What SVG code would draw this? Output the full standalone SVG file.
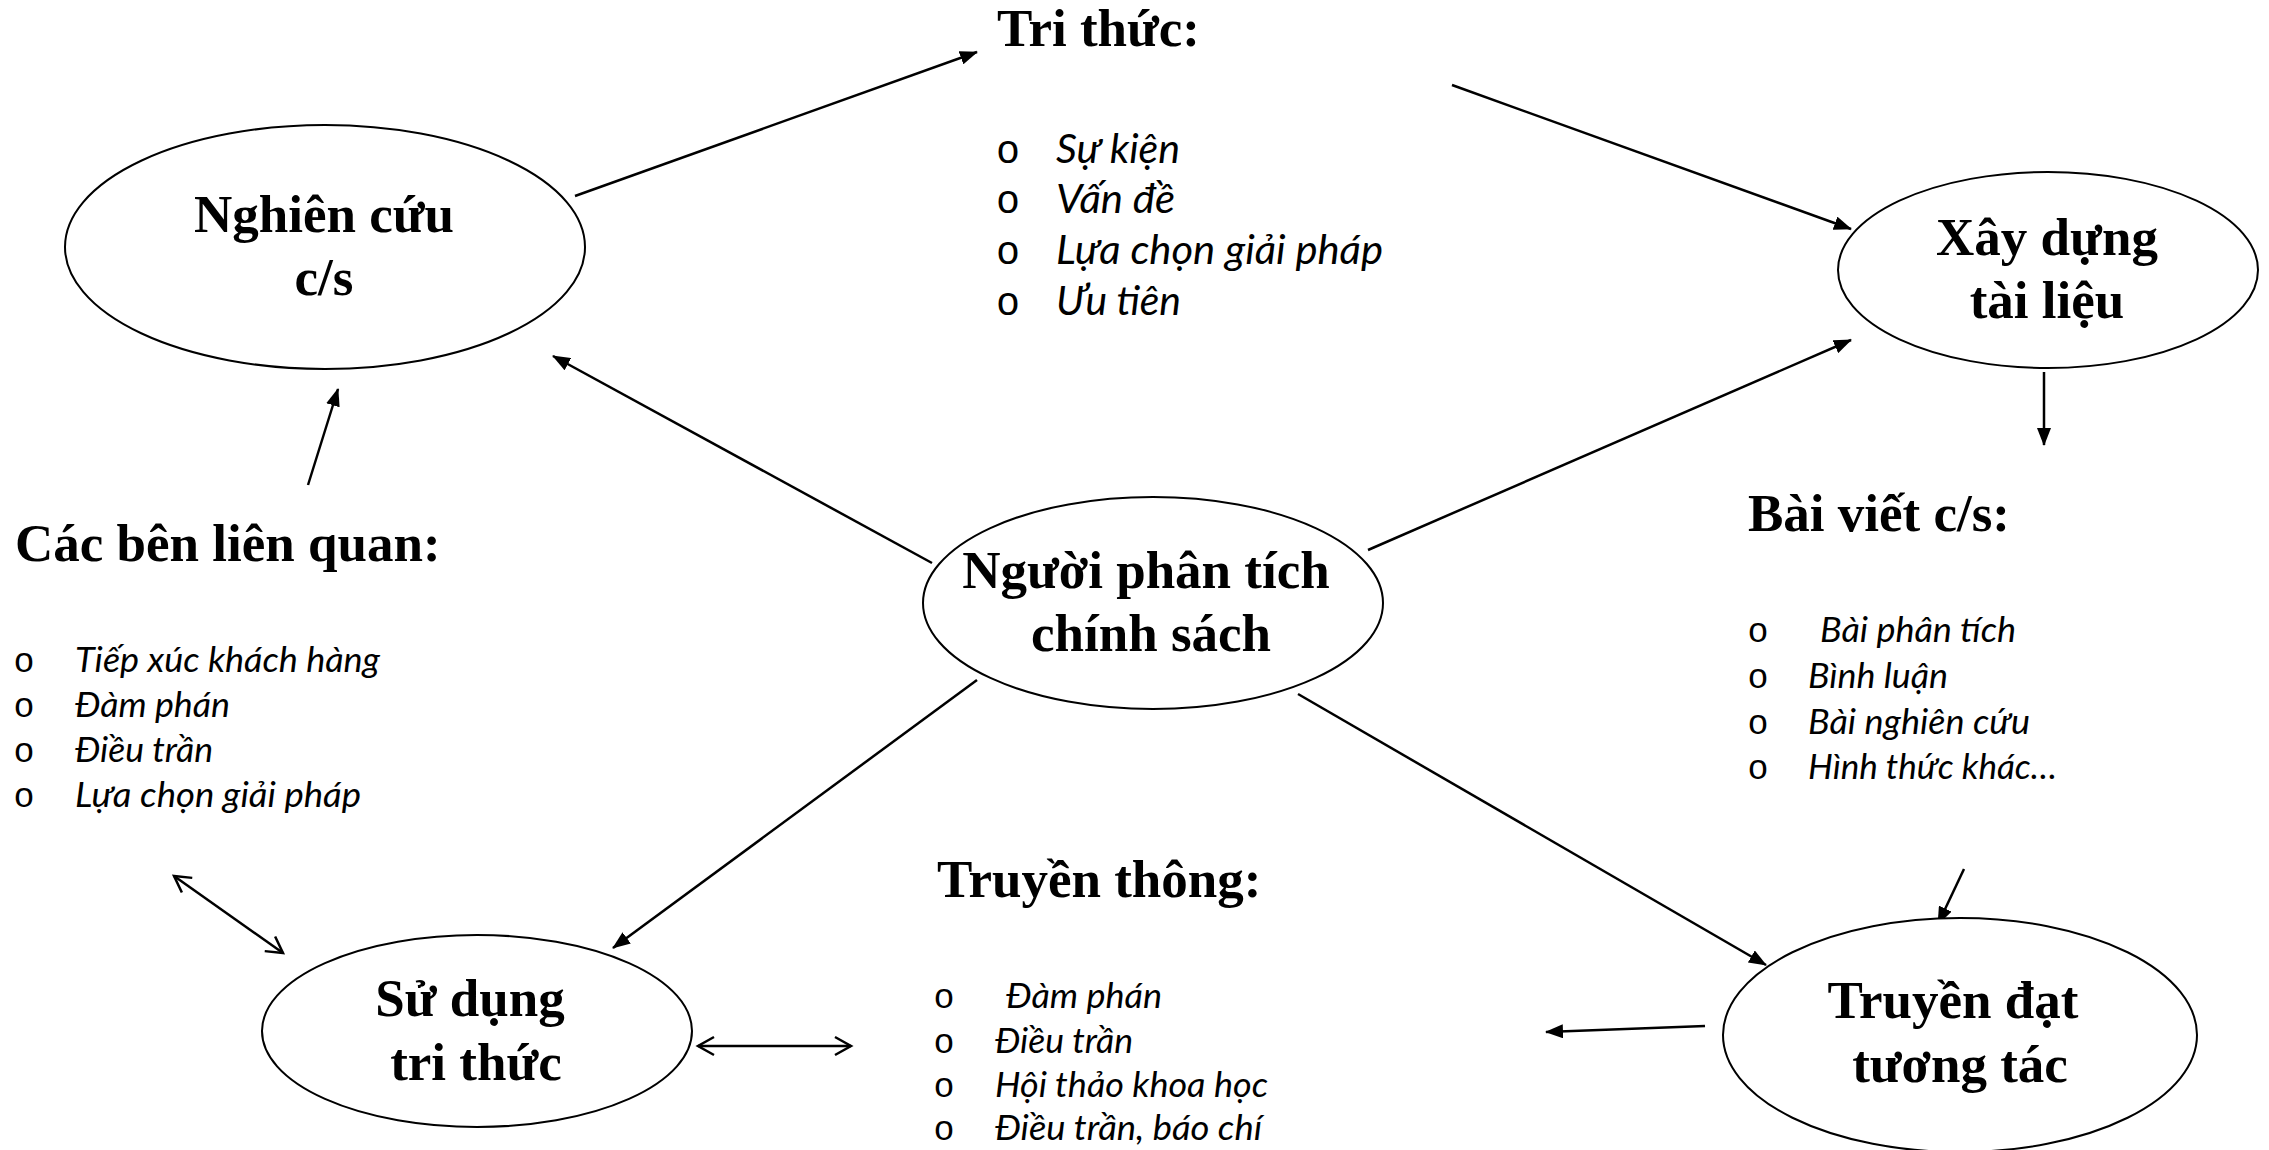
<svg xmlns="http://www.w3.org/2000/svg" width="2269" height="1150" viewBox="0 0 2269 1150">
<style>
.node{fill:#fff;stroke:#000;stroke-width:2}
.lbl{font-family:"Liberation Serif","Times New Roman",serif;font-weight:bold;font-size:53px;fill:#000}
.mid{text-anchor:middle}
.li{font-family:Lato,"Open Sans",sans-serif;font-style:italic;fill:#000}
.big{font-size:40px}
.sm{font-size:35px}
.bul{font-family:"Liberation Mono","Courier New",monospace;text-anchor:middle;fill:#000}
.ln{stroke:#000;stroke-width:2.5;fill:none}
</style>
<defs>
<marker id="fa" markerUnits="userSpaceOnUse" markerWidth="18" markerHeight="14" refX="17" refY="7" orient="auto">
<path d="M0,0 L18,7 L0,14 z" fill="#000"/>
</marker>
<marker id="oa" markerUnits="userSpaceOnUse" markerWidth="22" markerHeight="22" refX="19" refY="11" orient="auto-start-reverse">
<path d="M3,2 L19,11 L3,20" fill="none" stroke="#000" stroke-width="2.5"/>
</marker>
</defs>
<rect width="2269" height="1150" fill="#fff"/>
<g id="connectors">
<line class="ln" x1="575" y1="196" x2="977" y2="52" marker-end="url(#fa)"/>
<line class="ln" x1="308" y1="485" x2="338" y2="389" marker-end="url(#fa)"/>
<line class="ln" x1="932" y1="563" x2="553" y2="356" marker-end="url(#fa)"/>
<line class="ln" x1="1452" y1="85" x2="1851" y2="229" marker-end="url(#fa)"/>
<line class="ln" x1="1368" y1="550" x2="1851" y2="340" marker-end="url(#fa)"/>
<line class="ln" x1="2044" y1="372" x2="2044" y2="445" marker-end="url(#fa)"/>
<line class="ln" x1="977" y1="680" x2="613" y2="948" marker-end="url(#fa)"/>
<line class="ln" x1="174" y1="876" x2="283" y2="953" marker-start="url(#oa)" marker-end="url(#oa)"/>
<line class="ln" x1="698" y1="1046" x2="851" y2="1046" marker-start="url(#oa)" marker-end="url(#oa)"/>
<line class="ln" x1="1298" y1="694" x2="1766" y2="965" marker-end="url(#fa)"/>
<line class="ln" x1="1964" y1="869" x2="1938" y2="924" marker-end="url(#fa)"/>
<line class="ln" x1="1705" y1="1026" x2="1546" y2="1032" marker-end="url(#fa)"/>
</g>
<g id="nghien-cuu">
<ellipse class="node" cx="325" cy="247" rx="260" ry="122"/>
<text class="lbl mid" x="324" y="232">Nghiên cứu</text>
<text class="lbl mid" x="324" y="295">c/s</text>
</g>
<g id="xay-dung">
<ellipse class="node" cx="2048" cy="270" rx="210" ry="98"/>
<text class="lbl mid" x="2047" y="255">Xây dựng</text>
<text class="lbl mid" x="2047" y="318">tài liệu</text>
</g>
<g id="nguoi-phan-tich">
<ellipse class="node" cx="1153" cy="603" rx="230" ry="106"/>
<text class="lbl mid" x="1146" y="588">Người phân tích</text>
<text class="lbl mid" x="1151" y="651">chính sách</text>
</g>
<g id="su-dung">
<ellipse class="node" cx="477" cy="1031" rx="215" ry="96"/>
<text class="lbl mid" x="470" y="1016">Sử dụng</text>
<text class="lbl mid" x="476" y="1080">tri thức</text>
</g>
<g id="truyen-dat">
<ellipse class="node" cx="1960" cy="1035" rx="237" ry="117"/>
<text class="lbl mid" x="1953" y="1018">Truyền đạt</text>
<text class="lbl mid" x="1960" y="1082">tương tác</text>
</g>
<g id="tri-thuc">
<text class="lbl" x="997" y="46">Tri thức:</text>
<text class="bul" font-size="40" x="1008" y="163">o</text>
<text class="bul" font-size="40" x="1008" y="213">o</text>
<text class="bul" font-size="40" x="1008" y="264">o</text>
<text class="bul" font-size="40" x="1008" y="315">o</text>
<text class="li big" x="1056" y="163" textLength="124" lengthAdjust="spacingAndGlyphs">Sự kiện</text>
<text class="li big" x="1056" y="213" textLength="119" lengthAdjust="spacingAndGlyphs">Vấn đề</text>
<text class="li big" x="1056" y="264" textLength="327" lengthAdjust="spacingAndGlyphs">Lựa chọn giải pháp</text>
<text class="li big" x="1056" y="315" textLength="125" lengthAdjust="spacingAndGlyphs">Ưu tiên</text>
</g>
<g id="bai-viet">
<text class="lbl" x="1748" y="531">Bài viết c/s:</text>
<text class="bul" font-size="35" x="1758" y="642">o</text>
<text class="bul" font-size="35" x="1758" y="688">o</text>
<text class="bul" font-size="35" x="1758" y="734">o</text>
<text class="bul" font-size="35" x="1758" y="779">o</text>
<text class="li sm" x="1820" y="642" textLength="196" lengthAdjust="spacingAndGlyphs">Bài phân tích</text>
<text class="li sm" x="1808" y="688" textLength="140" lengthAdjust="spacingAndGlyphs">Bình luận</text>
<text class="li sm" x="1808" y="734" textLength="222" lengthAdjust="spacingAndGlyphs">Bài nghiên cứu</text>
<text class="li sm" x="1808" y="779" textLength="249" lengthAdjust="spacingAndGlyphs">Hình thức khác…</text>
</g>
<g id="cac-ben">
<text class="lbl" x="15" y="561">Các bên liên quan:</text>
<text class="bul" font-size="35" x="24" y="672">o</text>
<text class="bul" font-size="35" x="24" y="717">o</text>
<text class="bul" font-size="35" x="24" y="762">o</text>
<text class="bul" font-size="35" x="24" y="807">o</text>
<text class="li sm" x="75" y="672" textLength="305" lengthAdjust="spacingAndGlyphs">Tiếp xúc khách hàng</text>
<text class="li sm" x="75" y="717" textLength="155" lengthAdjust="spacingAndGlyphs">Đàm phán</text>
<text class="li sm" x="75" y="762" textLength="138" lengthAdjust="spacingAndGlyphs">Điều trần</text>
<text class="li sm" x="75" y="807" textLength="286" lengthAdjust="spacingAndGlyphs">Lựa chọn giải pháp</text>
</g>
<g id="truyen-thong">
<text class="lbl" x="937" y="897">Truyền thông:</text>
<text class="bul" font-size="35" x="944" y="1008">o</text>
<text class="bul" font-size="35" x="944" y="1053">o</text>
<text class="bul" font-size="35" x="944" y="1097">o</text>
<text class="bul" font-size="35" x="944" y="1140">o</text>
<text class="li sm" x="1006" y="1008" textLength="156" lengthAdjust="spacingAndGlyphs">Đàm phán</text>
<text class="li sm" x="995" y="1053" textLength="138" lengthAdjust="spacingAndGlyphs">Điều trần</text>
<text class="li sm" x="995" y="1097" textLength="273" lengthAdjust="spacingAndGlyphs">Hội thảo khoa học</text>
<text class="li sm" x="995" y="1140" textLength="267" lengthAdjust="spacingAndGlyphs">Điều trần, báo chí</text>
</g>
</svg>
